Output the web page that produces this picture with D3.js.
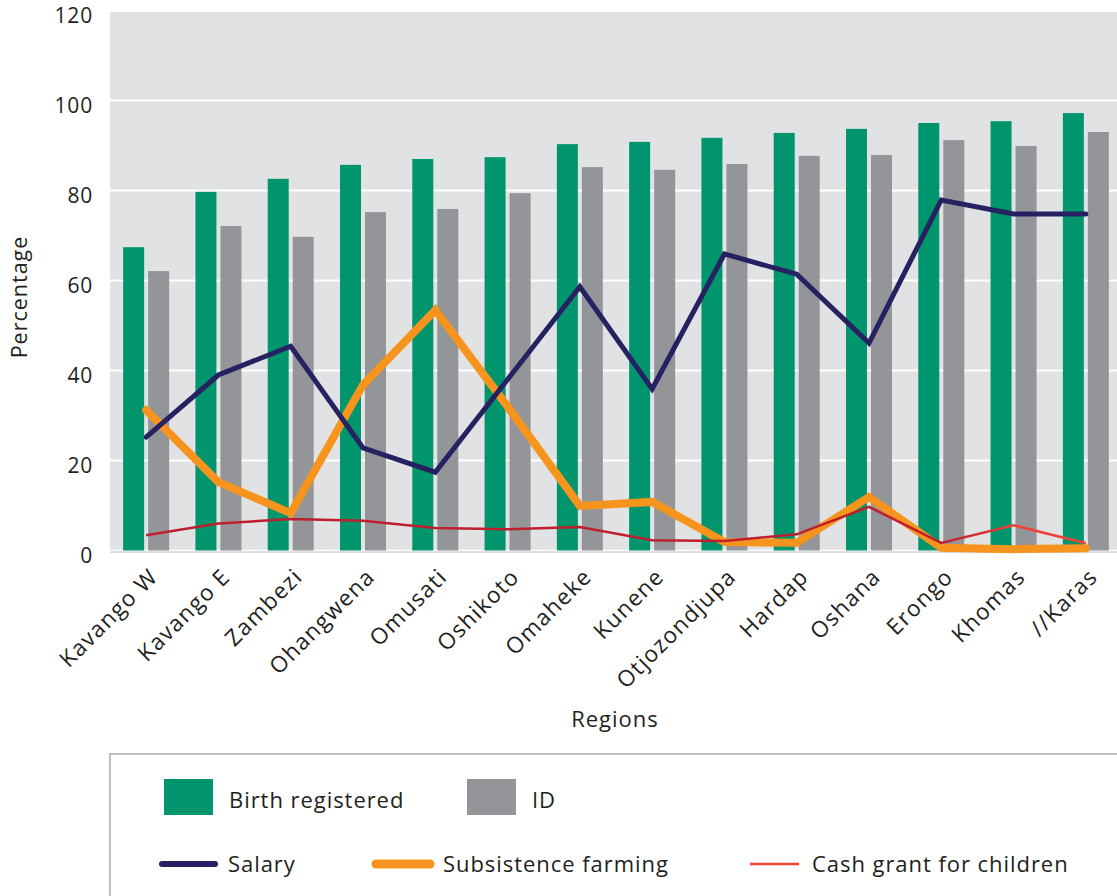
<!DOCTYPE html>
<html><head><meta charset="utf-8">
<script src="https://cdn.jsdelivr.net/npm/d3@7"></script>
<style>
html,body{margin:0;padding:0;background:#fff;}
svg{display:block;font-family:"Open Sans","Lato",sans-serif;}
</style></head>
<body><svg id="chart" width="1117" height="896"></svg>
<script>
const regions = ["Kavango W","Kavango E","Zambezi","Ohangwena","Omusati","Oshikoto","Omaheke","Kunene","Otjozondjupa","Hardap","Oshana","Erongo","Khomas","//Karas"];
const birthRegistered = [67.4,79.7,82.6,85.7,87.0,87.4,90.3,90.8,91.7,92.8,93.7,95.0,95.4,97.2];
const idCard = [62.1,72.1,69.7,75.2,75.9,79.4,85.2,84.6,85.9,87.7,87.9,91.2,89.9,93.0];
const salary = [25.2,39.0,45.4,22.8,17.4,38.0,58.6,35.9,65.9,61.4,46.1,77.9,74.8,74.8];
const subsistence = [31.2,15.2,8.3,36.8,53.4,32.0,9.9,10.8,1.9,1.7,11.9,0.6,0.3,0.5];
const cashGrant = [3.4,6.0,7.0,6.6,5.0,4.7,5.2,2.3,2.1,3.6,9.7,1.7,5.6,1.6];
const yTicks = [0,20,40,60,80,100,120];

const svg = d3.select("#chart");
const W = 1117;
const TXT = "#231f20";
const x = d3.scaleBand().domain(regions).range([110, 1122]).paddingInner(0).paddingOuter(0);
const y = d3.scaleLinear().domain([0,120]).range([550.5, 10.5]);
const cx = d => x(d) + x.bandwidth()/2;

// background
svg.append("rect").attr("x",110).attr("y",12).attr("width",W-110).attr("height",552-12).attr("fill","#e1e2e4");
svg.append("line").attr("x1",110).attr("x2",W).attr("y1",552).attr("y2",552).attr("stroke","#cfd0d2").attr("stroke-width",1.5);

// gridlines
svg.append("g").selectAll("line").data(yTicks.filter(t=>t>0 && t<120)).join("line")
  .attr("x1",110).attr("x2",W).attr("y1",d=>y(d)).attr("y2",d=>y(d))
  .attr("stroke","#ffffff").attr("stroke-width",2);
svg.append("line").attr("x1",110).attr("x2",W).attr("y1",y(0)).attr("y2",y(0)).attr("stroke","#ffffff").attr("stroke-width",1.5);

// y axis labels
const yAxis = d3.axisLeft(y).tickValues(yTicks).tickSize(0).tickPadding(0);
const gy = svg.append("g").attr("transform","translate(93,5)").call(yAxis);
gy.select(".domain").remove();
gy.selectAll("text").attr("font-size",21).attr("fill",TXT).attr("font-family","'Open Sans', sans-serif")
  .attr("letter-spacing","0.8px").attr("dy","0.34em");

// bars
const bw = 21;
svg.append("g").selectAll("rect").data(regions).join("rect")
  .attr("x",d=>cx(d)-2-bw).attr("width",bw)
  .attr("y",(d,i)=>y(birthRegistered[i])).attr("height",(d,i)=>y(0)-y(birthRegistered[i]))
  .attr("fill","#00956d");
svg.append("g").selectAll("rect").data(regions).join("rect")
  .attr("x",d=>cx(d)+2).attr("width",bw)
  .attr("y",(d,i)=>y(idCard[i])).attr("height",(d,i)=>y(0)-y(idCard[i]))
  .attr("fill","#939598");

// gradient for cash grant line
const defs = svg.append("defs");
const grad = defs.append("linearGradient").attr("id","redgrad").attr("gradientUnits","userSpaceOnUse")
  .attr("x1",cx(regions[11])).attr("x2",cx(regions[12])).attr("y1",0).attr("y2",0);
grad.append("stop").attr("offset","0%").attr("stop-color","#be1e2d");
grad.append("stop").attr("offset","100%").attr("stop-color","#ef4136");

const line = arr => d3.line().x((d,i)=>cx(regions[i])).y(d=>y(d))(arr);
svg.append("path").attr("d",line(subsistence)).attr("fill","none").attr("stroke","#f7941d").attr("stroke-width",8).attr("stroke-linejoin","miter").attr("stroke-linecap","round");
svg.append("path").attr("d",line(salary)).attr("fill","none").attr("stroke","#262262").attr("stroke-width",5).attr("stroke-linejoin","miter").attr("stroke-linecap","round");
svg.append("path").attr("d",line(cashGrant)).attr("fill","none").attr("stroke","url(#redgrad)").attr("stroke-width",2.5).attr("stroke-linejoin","miter");

// x labels
svg.append("g").selectAll("text").data(regions).join("text")
  .attr("transform",d=>`translate(${cx(d)+2},${567}) rotate(-45)`)
  .attr("text-anchor","end").attr("dy","0.7em")
  .attr("font-size",22.5).attr("letter-spacing","1.3px").attr("fill",TXT).text(d=>d);

// axis titles
svg.append("text").attr("x",615).attr("y",727).attr("text-anchor","middle").attr("font-size",22).attr("letter-spacing","1px").attr("fill",TXT).text("Regions");
svg.append("text").attr("transform","translate(27,297) rotate(-90)").attr("text-anchor","middle").attr("font-size",21.5).attr("letter-spacing","1px").attr("fill",TXT).text("Percentage");

// legend box
svg.append("path").attr("d",`M110,${896} L110,754 L${W},754`).attr("fill","none").attr("stroke","#bcbec0").attr("stroke-width",2);

const legBars = [{label:"Birth registered",color:"#00956d",x:164},{label:"ID",color:"#939598",x:467}];
const lb = svg.append("g").selectAll("g").data(legBars).join("g");
lb.append("rect").attr("x",d=>d.x).attr("y",779).attr("width",49).attr("height",36).attr("fill",d=>d.color);
lb.append("text").attr("x",d=>d.x+65).attr("y",800).attr("dy","0.35em").attr("font-size",22).attr("letter-spacing","0.95px").attr("fill",TXT).text(d=>d.label);

const legLines = [{label:"Salary",color:"#262262",x:162,w:53,sw:6,cap:"round"},
  {label:"Subsistence farming",color:"#f7941d",x:376,w:54,sw:9,cap:"round"},
  {label:"Cash grant for children",color:"#ef4136",x:750,w:49,sw:2.5,cap:"butt"}];
const ll = svg.append("g").selectAll("g").data(legLines).join("g");
ll.append("line").attr("x1",d=>d.x).attr("x2",d=>d.x+d.w).attr("y1",864).attr("y2",864)
  .attr("stroke",d=>d.color).attr("stroke-width",d=>d.sw).attr("stroke-linecap",d=>d.cap);
ll.append("text").attr("x",d=>d.x+d.w+13).attr("y",864).attr("dy","0.35em").attr("font-size",22).attr("letter-spacing","0.95px").attr("fill",TXT).text(d=>d.label);
</script></body></html>
